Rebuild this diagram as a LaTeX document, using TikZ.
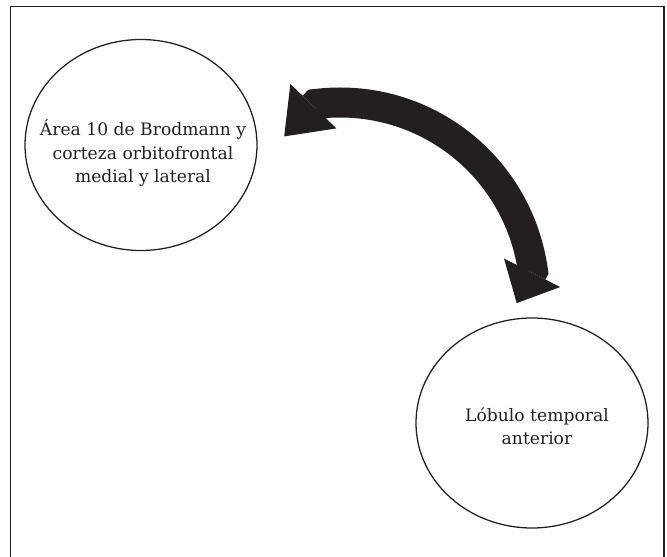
\documentclass[tikz,border=0pt]{standalone}
\usepackage{fontspec}
\setmainfont{DejaVu Serif}
\usetikzlibrary{shapes,arrows.meta}
\definecolor{tinta}{HTML}{231F20}

\begin{document}
\begin{tikzpicture}[lobe/.style={shape=ellipse,draw=tinta,line width=0.9pt,inner sep=0pt,minimum width=5.8cm},
lobetext/.style={align=center,inner sep=0pt,text=tinta,font=\fontsize{12.2}{16.4}\selectfont},
flecha/.style={draw=tinta,line width=0.75cm,arrows={Triangle[length=1.05cm,width=1.6cm,line width=0pt]-Triangle[length=0.85cm,width=1.575cm,line width=0pt]}}]
\useasboundingbox (0,0) rectangle (16.675,13.9);
\draw[tinta,line width=1.4pt] (0.2625,-0.2) -- (0.2625,13.7375) -- (16.6,13.7375) -- (16.6,-0.2);

\node[lobe,minimum height=5.275cm] (0) at (3.525,10.275) {};
\node[lobe,minimum height=5.25cm] (1) at (13.3,3.325) {};
\node[lobetext] (0t) at (3.575,10.075) {Área 10 de Brodmann y\\corteza orbitofrontal\\medial y lateral};
\node[lobetext] (1t) at (13.425,3.25) {Lóbulo temporal\\anterior};

\coordinate (2) at (7.105,10.49);
\coordinate (3) at (7.8875,11.3);
\coordinate (4) at (13.325,7.125);
\coordinate (5) at (12.9175,6.3225);

\path [flecha] (2) -- (3) to[out=7,in=98] (4) -- (5);
\end{tikzpicture}
\end{document}
